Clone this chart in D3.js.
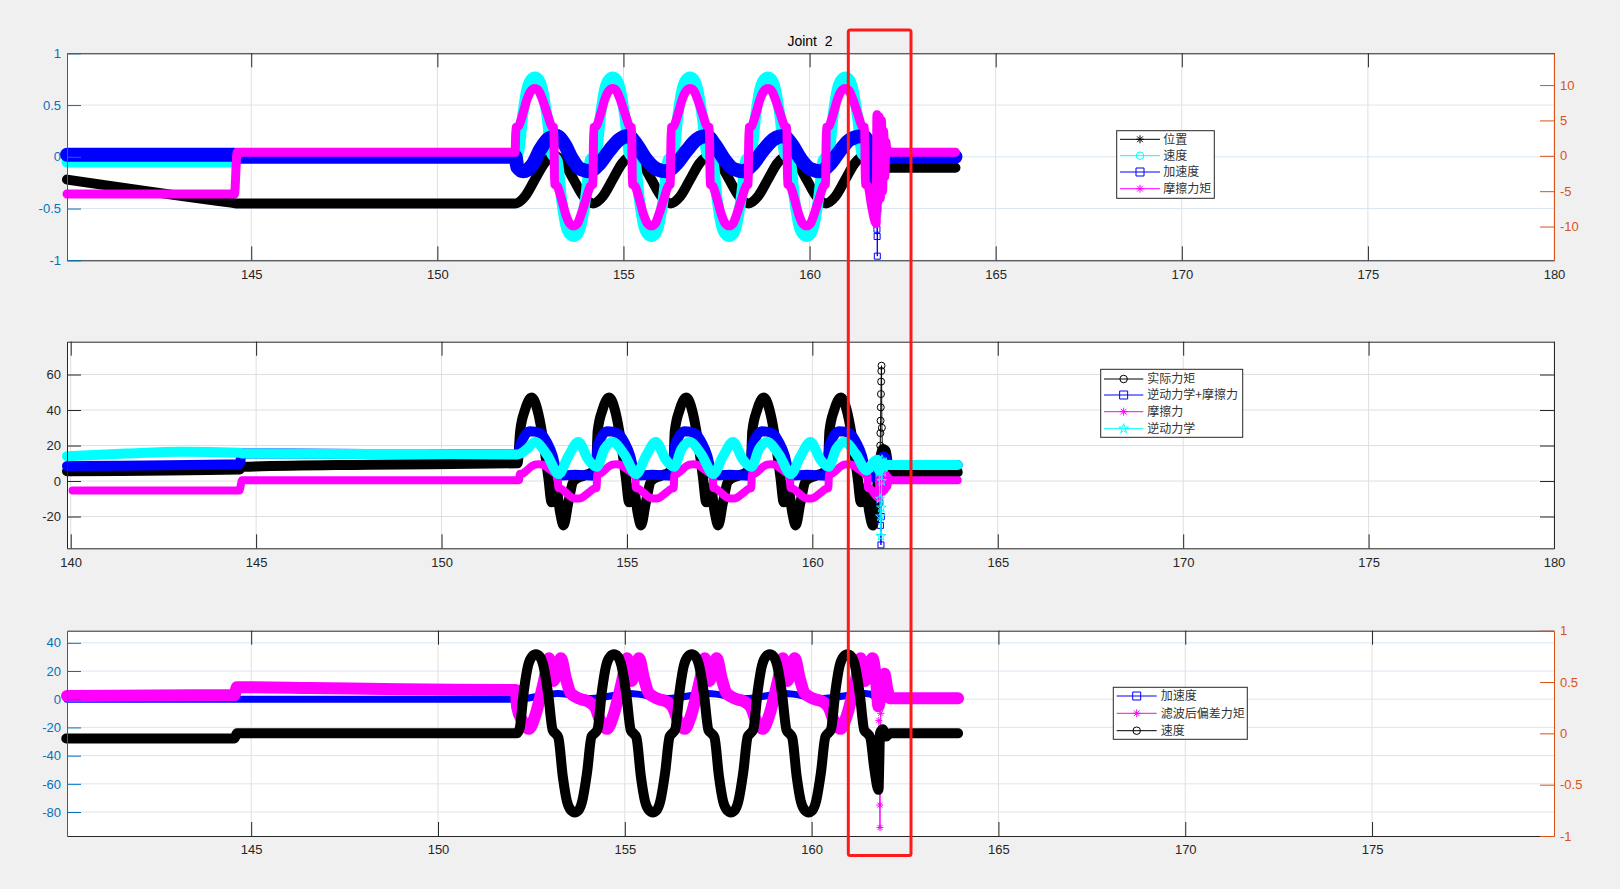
<!DOCTYPE html>
<html><head><meta charset="utf-8">
<script src="https://cdn.jsdelivr.net/npm/d3@7"></script>
<style>body{margin:0;background:#f0f0f0;} svg{display:block;}</style>
</head><body>
<script>
// ===================== DATA =====================
const titleText = "Joint  2";

// ---- panel 1 ticks ----
const p1XTicks = [145,150,155,160,165,170,175,180];
const p1YLTicks = [-1,-0.5,0,0.5,1];
const p1YRTicks = [-10,-5,0,5,10];
// ---- panel 2 ticks ----
const p2XTicks = [140,145,150,155,160,165,170,175,180];
const p2YTicks = [-20,0,20,40,60];
// ---- panel 3 ticks ----
const p3XTicks = [145,150,155,160,165,170,175];
const p3YLTicks = [-80,-60,-40,-20,0,20,40];
const p3YRTicks = [-1,-0.5,0,0.5,1];

// legends
const legend1Labels = ["位置","速度","加速度","摩擦力矩"];
const legend2Labels = ["实际力矩","逆动力学+摩擦力","摩擦力","逆动力学"];
const legend3Labels = ["加速度","滤波后偏差力矩","速度"];

// 位置 (panel 1, left axis)
const position = [[140.05,-0.22],[144.45,-0.443],[144.6,-0.45],[152.10,-0.45],
[152.36,-0.38],[152.62,-0.22],[152.88,-0.06],[153.14,0.01],[153.40,-0.06],[153.66,-0.22],[153.92,-0.38],[154.19,-0.45],
[154.45,-0.38],[154.71,-0.22],[154.97,-0.06],[155.23,0.01],[155.49,-0.06],[155.75,-0.22],[156.01,-0.38],[156.27,-0.45],
[156.53,-0.38],[156.79,-0.22],[157.05,-0.06],[157.32,0.01],[157.58,-0.06],[157.84,-0.22],[158.10,-0.38],[158.36,-0.45],
[158.62,-0.38],[158.88,-0.22],[159.14,-0.06],[159.40,0.01],[159.66,-0.06],[159.92,-0.22],[160.18,-0.38],[160.44,-0.45],
[160.70,-0.38],[160.96,-0.22],[161.22,-0.06],[161.49,0.01],[161.65,-0.03],[161.80,-0.09],[161.95,-0.106],[163.92,-0.106]];

// 速度 (panel 1 cyan, left axis; panel 3 black, right axis)
const velocity = [[140.05,-0.05],[144.55,-0.05],[144.62,0],[152.10,0],
[152.18,0.04],[152.30,0.42],[152.41,0.66],[152.52,0.75],[152.62,0.77],[152.72,0.75],[152.82,0.66],[152.95,0.38],[153.07,0.03],
[153.14,0],[153.22,-0.04],[153.34,-0.42],[153.45,-0.66],[153.56,-0.75],[153.66,-0.77],[153.76,-0.75],[153.86,-0.66],[153.99,-0.38],[154.11,-0.03],
[154.19,0],[154.27,0.04],[154.39,0.42],[154.50,0.66],[154.61,0.75],[154.71,0.77],[154.81,0.75],[154.91,0.66],[155.04,0.38],[155.16,0.03],
[155.23,0],[155.31,-0.04],[155.43,-0.42],[155.54,-0.66],[155.65,-0.75],[155.75,-0.77],[155.85,-0.75],[155.95,-0.66],[156.08,-0.38],[156.20,-0.03],
[156.27,0],[156.35,0.04],[156.47,0.42],[156.58,0.66],[156.69,0.75],[156.79,0.77],[156.89,0.75],[156.99,0.66],[157.12,0.38],[157.24,0.03],
[157.32,0],[157.40,-0.04],[157.52,-0.42],[157.63,-0.66],[157.74,-0.75],[157.84,-0.77],[157.94,-0.75],[158.04,-0.66],[158.17,-0.38],[158.29,-0.03],
[158.36,0],[158.44,0.04],[158.56,0.42],[158.67,0.66],[158.78,0.75],[158.88,0.77],[158.98,0.75],[159.08,0.66],[159.21,0.38],[159.33,0.03],
[159.40,0],[159.48,-0.04],[159.60,-0.42],[159.71,-0.66],[159.82,-0.75],[159.92,-0.77],[160.02,-0.75],[160.12,-0.66],[160.25,-0.38],[160.37,-0.03],
[160.44,0],[160.52,0.04],[160.64,0.42],[160.75,0.66],[160.86,0.75],[160.96,0.77],[161.06,0.75],[161.16,0.66],[161.29,0.38],[161.41,0.03],
[161.49,0],[161.57,-0.04],[161.68,-0.35],[161.79,-0.55],[161.81,-0.30],[161.83,0],[161.90,0.04],[162.00,-0.03],[162.10,0],[163.92,0]];

// 加速度 (panel 1 blue, left axis)
const accel1 = [[140.05,0.02],[144.55,0.02],[144.62,0],[152.10,0],
[152.15,-0.10],[152.31,-0.14],[152.55,-0.08],[152.78,0.08],[153.00,0.18],[153.21,0.20],[153.42,0.12],[153.62,-0.02],[153.85,-0.12],
[154.10,-0.14],[154.35,-0.07],[154.62,0.06],[154.90,0.17],[155.13,0.20],[155.35,0.12],[155.60,-0.02],[155.90,-0.12],
[156.16,-0.14],[156.42,-0.07],[156.70,0.06],[156.98,0.17],[157.24,0.20],[157.45,0.12],[157.70,-0.02],[157.97,-0.12],
[158.22,-0.14],[158.48,-0.07],[158.75,0.06],[159.04,0.17],[159.30,0.20],[159.52,0.12],[159.76,-0.02],[160.03,-0.12],
[160.28,-0.14],[160.55,-0.07],[160.82,0.06],[161.10,0.17],[161.44,0.20],[161.60,0.12],[161.72,-0.10],[161.78,-0.30],
[161.86,0.05],[161.95,-0.10],[162.05,0.05],[162.12,0],[163.92,0]];
const accel1Spike = [[161.79,-0.38],[161.80,-0.56],[161.81,-0.70],[161.815,-0.77],[161.82,-0.96],[161.83,-0.50],[161.845,-0.10]];

// 摩擦力矩 / 摩擦力 (panel 1 magenta right axis; panel 2 magenta)
const friction = [[140.05,-5.4],[144.55,-5.4],[144.62,0.5],[152.09,0.5],
[152.11,4.0],[152.18,4.2],[152.30,6.0],[152.41,8.0],[152.52,9.2],[152.62,9.5],[152.72,9.2],[152.82,8.0],[152.95,6.0],[153.07,4.2],[153.13,4.0],
[153.15,-4.0],[153.22,-4.3],[153.34,-6.2],[153.45,-8.3],[153.56,-9.6],[153.66,-9.9],[153.76,-9.6],[153.86,-8.3],[153.99,-6.2],[154.11,-4.3],[154.18,-4.0],
[154.20,4.0],[154.27,4.2],[154.39,6.0],[154.50,8.0],[154.61,9.2],[154.71,9.5],[154.81,9.2],[154.91,8.0],[155.04,6.0],[155.16,4.2],[155.22,4.0],
[155.24,-4.0],[155.31,-4.3],[155.43,-6.2],[155.54,-8.3],[155.65,-9.6],[155.75,-9.9],[155.85,-9.6],[155.95,-8.3],[156.08,-6.2],[156.20,-4.3],[156.26,-4.0],
[156.28,4.0],[156.35,4.2],[156.47,6.0],[156.58,8.0],[156.69,9.2],[156.79,9.5],[156.89,9.2],[156.99,8.0],[157.12,6.0],[157.24,4.2],[157.31,4.0],
[157.33,-4.0],[157.40,-4.3],[157.52,-6.2],[157.63,-8.3],[157.74,-9.6],[157.84,-9.9],[157.94,-9.6],[158.04,-8.3],[158.17,-6.2],[158.29,-4.3],[158.35,-4.0],
[158.37,4.0],[158.44,4.2],[158.56,6.0],[158.67,8.0],[158.78,9.2],[158.88,9.5],[158.98,9.2],[159.08,8.0],[159.21,6.0],[159.33,4.2],[159.39,4.0],
[159.41,-4.0],[159.48,-4.3],[159.60,-6.2],[159.71,-8.3],[159.82,-9.6],[159.92,-9.9],[160.02,-9.6],[160.12,-8.3],[160.25,-6.2],[160.37,-4.3],[160.43,-4.0],
[160.45,4.0],[160.52,4.2],[160.64,6.0],[160.75,8.0],[160.86,9.2],[160.96,9.5],[161.06,9.2],[161.16,8.0],[161.29,6.0],[161.41,4.2],[161.48,4.0],
[161.50,-4.0],[161.57,-4.3],[161.68,-7.5],[161.79,-9.6],[161.81,5.8],[161.84,-6.5],[161.87,5.5],[161.90,-6.0],[161.93,5.0],
[161.96,-5.0],[161.99,3.5],[162.02,-3.0],[162.05,2.0],[162.08,0.5],[163.92,0.5]];

// 实际力矩 (panel 2 black)
const actualTorque = [[139.9,5.5],[144.55,6.5],[144.62,8.0],[148.0,9.2],[152.05,10.0],
[152.12,28],[152.25,40],[152.43,47],[152.61,38],[152.75,22],[152.88,2],[152.97,-12],[153.09,-4],[153.20,-18],[153.29,-25],[153.42,-12],[153.56,0],[153.83,3],[154.05,5],[154.17,9],
[154.21,28],[154.34,40],[154.52,47],[154.70,38],[154.84,22],[154.97,2],[155.06,-12],[155.18,-4],[155.29,-18],[155.38,-25],[155.51,-12],[155.65,0],[155.92,3],[156.14,5],[156.25,9],
[156.29,28],[156.42,40],[156.60,47],[156.78,38],[156.92,22],[157.05,2],[157.14,-12],[157.26,-4],[157.37,-18],[157.46,-25],[157.59,-12],[157.73,0],[158.00,3],[158.22,5],[158.34,9],
[158.38,28],[158.51,40],[158.69,47],[158.87,38],[159.01,22],[159.14,2],[159.23,-12],[159.35,-4],[159.46,-18],[159.55,-25],[159.68,-12],[159.82,0],[160.09,3],[160.31,5],[160.42,9],
[160.46,28],[160.59,40],[160.77,47],[160.95,38],[161.09,22],[161.22,2],[161.31,-12],[161.43,-4],[161.54,-18],[161.63,-25],[161.72,-10],[161.80,8],
[161.90,18],[161.98,17],[162.05,8],[162.15,5],[163.92,5]];
const actualTorqueSpike = [[161.83,20],[161.835,27],[161.84,34],[161.845,41.5],[161.85,49],[161.855,56],[161.86,62],[161.865,65],[161.875,30],[161.89,17]];

// 逆动力学+摩擦力 (panel 2 blue)
const invDynFric = [[139.9,8.5],[144.55,9.5],[144.62,15.5],[148.0,15.3],[152.05,15.0],
[152.12,20],[152.39,28],[152.66,27],[152.84,22],[153.00,14],[153.07,8],[153.16,3],[153.60,3.5],[154.10,3],[154.17,8],
[154.21,20],[154.48,28],[154.75,27],[154.93,22],[155.09,14],[155.16,8],[155.25,3],[155.69,3.5],[156.19,3],[156.25,8],
[156.29,20],[156.56,28],[156.83,27],[157.01,22],[157.17,14],[157.24,8],[157.33,3],[157.77,3.5],[158.27,3],[158.34,8],
[158.38,20],[158.65,28],[158.92,27],[159.10,22],[159.26,14],[159.33,8],[159.42,3],[159.86,3.5],[160.36,3],[160.42,8],
[160.46,20],[160.73,28],[161.00,27],[161.18,22],[161.34,14],[161.41,8],[161.50,3],[161.70,2],[161.78,5],
[161.92,14],[162.00,12],[162.08,9],[163.92,9]];
const invDynFricSpike = [[161.80,5],[161.82,-12],[161.835,-25],[161.85,-36],[161.86,-20],[161.87,0],[161.90,12]];

// 逆动力学 (panel 2 cyan)
const invDyn = [[139.9,14],[141.5,15.5],[143.0,16.5],[144.55,16],[144.62,15.5],[148.0,15.3],[152.05,15.0],
[152.30,18],[152.52,22],[152.84,15],[153.16,4],[153.42,14],[153.69,22],[153.96,12],[154.19,8],
[154.39,18],[154.61,22],[154.93,15],[155.25,4],[155.51,14],[155.78,22],[156.05,12],[156.27,8],
[156.47,18],[156.69,22],[157.01,15],[157.33,4],[157.59,14],[157.86,22],[158.13,12],[158.36,8],
[158.56,18],[158.78,22],[159.10,15],[159.42,4],[159.68,14],[159.95,22],[160.22,12],[160.44,8],
[160.64,18],[160.86,22],[161.18,15],[161.46,6],[161.62,10],[161.75,12],[161.80,6],
[161.92,10],[162.00,9],[163.92,9]];
const invDynSpike = [[161.80,5],[161.82,-10],[161.835,-20],[161.85,-31],[161.86,-15],[161.87,0],[161.88,12],[161.90,5]];

// 加速度 (panel 3 blue, left axis)
const accel3 = [[140.07,0],[152.10,0],[152.31,0.5],[153.21,4],[154.10,0.5],[155.13,4],[156.16,0.5],[157.24,4],
[158.22,0.5],[159.30,4],[160.28,0.5],[161.44,4],[161.70,2],[161.85,-2],[161.95,3],[162.10,0],[163.92,0]];

// 滤波后偏差力矩 (panel 3 magenta, left axis)
const filtDevTorque = [[140.07,2.3],[144.55,3.0],[144.62,8.5],[146.5,8.0],[149.0,7.0],[152.08,6.5],
[152.12,-6],[152.25,-15],[152.43,-21],[152.61,-11],[152.75,3],[152.88,18],[152.97,29],[153.09,13],[153.20,22],[153.29,29],[153.42,15],[153.56,4],[153.83,0],[154.05,-2],
[154.21,-6],[154.34,-15],[154.52,-21],[154.70,-11],[154.84,3],[154.97,18],[155.06,29],[155.18,13],[155.29,22],[155.38,29],[155.51,15],[155.65,4],[155.92,0],[156.14,-2],
[156.29,-6],[156.42,-15],[156.60,-21],[156.78,-11],[156.92,3],[157.05,18],[157.14,29],[157.26,13],[157.37,22],[157.46,29],[157.59,15],[157.73,4],[158.00,0],[158.22,-2],
[158.38,-6],[158.51,-15],[158.69,-21],[158.87,-11],[159.01,3],[159.14,18],[159.23,29],[159.35,13],[159.46,22],[159.55,29],[159.68,15],[159.82,4],[160.09,0],[160.31,-2],
[160.46,-6],[160.59,-15],[160.77,-21],[160.95,-11],[161.09,3],[161.22,18],[161.31,29],[161.43,13],[161.54,22],[161.63,29],[161.72,15],[161.79,-5],
[161.88,12],[161.95,18],[162.02,8],[162.10,0.7],[163.92,0.7]];
const filtDevTorqueSpike = [[161.80,-15],[161.81,-30],[161.815,-45],[161.82,-60],[161.825,-75],[161.83,-91],[161.84,-50],[161.85,-10]];

// ===================== DRAWING =====================
const W = 1620, H = 889, PL = 67, PR = 1554;
const FONT = '"Liberation Sans", Arial, Helvetica, sans-serif';
const CJK = '"Noto Sans CJK SC", "Noto Sans CJK JP", sans-serif';
const C_LEFT = '#0072BD', C_RIGHT = '#D95319', C_AX = '#262626';

const svg = d3.select('body').append('svg').attr('width', W).attr('height', H);
svg.append('rect').attr('width', W).attr('height', H).attr('fill', '#f0f0f0');

function markerPath(type, s) {
  const r = s / 2;
  if (type === 'star') { const a = r * 0.72; return `M${-r},0L${r},0M0,${-r}L0,${r}M${-a},${-a}L${a},${a}M${-a},${a}L${a},${-a}`; }
  if (type === 'square') return `M${-r},${-r}H${r}V${r}H${-r}Z`;
  if (type === 'circle') return d3.symbol(d3.symbolCircle, Math.PI * r * r)();
  if (type === 'pentagram') return d3.symbol(d3.symbolStar, s * s * 0.45)();
}

function band(g, data, x, y, color, width) {
  g.append('path').datum(data)
    .attr('d', d3.line().x(d => x(d[0])).y(d => y(d[1])).curve(d3.curveMonotoneX))
    .attr('fill', 'none').attr('stroke', color).attr('stroke-width', width)
    .attr('stroke-linejoin', 'round').attr('stroke-linecap', 'round');
}
function spike(g, data, x, y, color, marker, size) {
  g.append('path').datum(data)
    .attr('d', d3.line().x(d => x(d[0])).y(d => y(d[1])))
    .attr('fill', 'none').attr('stroke', color).attr('stroke-width', 1);
  g.selectAll(null).data(data).join('path')
    .attr('transform', d => `translate(${x(d[0])},${y(d[1])})`)
    .attr('d', markerPath(marker, size)).attr('fill', 'none').attr('stroke', color).attr('stroke-width', 1);
}

function makePanel(p) {
  const g = svg.append('g');
  const x = d3.scaleLinear().domain(p.xDomain).range([PL, PR]);
  const yL = d3.scaleLinear().domain(p.yLDomain).range([p.bottom, p.top]);
  const yR = p.yRDomain ? d3.scaleLinear().domain(p.yRDomain).range([p.bottom, p.top]) : null;
  g.append('rect').attr('x', PL).attr('y', p.top).attr('width', PR - PL).attr('height', p.bottom - p.top).attr('fill', '#fff');
  g.selectAll('.vg').data(p.xTicks).join('line').attr('class', 'vg')
    .attr('x1', d => x(d)).attr('x2', d => x(d)).attr('y1', p.top).attr('y2', p.bottom)
    .attr('stroke', '#dfdfdf').attr('stroke-width', 1);
  g.selectAll('.hg').data(p.yLTicks).join('line').attr('class', 'hg')
    .attr('x1', PL).attr('x2', PR).attr('y1', d => yL(d)).attr('y2', d => yL(d))
    .attr('stroke', p.hGrid).attr('stroke-width', 1);
  const data = g.append('g');
  const axes = g.append('g');
  return { g, data, axes, x, yL, yR, p };
}

function styleAxis(sel, color, textColor) {
  sel.attr('font-family', FONT).attr('font-size', 13);
  sel.select('.domain').attr('stroke', color).attr('stroke-width', 1);
  sel.selectAll('.tick line').attr('stroke', color).attr('stroke-width', 1);
  sel.selectAll('.tick text').attr('fill', textColor);
}

function drawAxes(P, leftColor, rightColor) {
  const { axes, x, yL, yR, p } = P;
  const fmt = d => String(d);
  styleAxis(axes.append('g').attr('transform', `translate(0,${p.bottom})`)
    .call(d3.axisBottom(x).tickValues(p.xTicks).tickSize(-14).tickSizeOuter(0).tickPadding(9).tickFormat(fmt)), C_AX, C_AX);
  styleAxis(axes.append('g').attr('transform', `translate(0,${p.top})`)
    .call(d3.axisTop(x).tickValues(p.xTicks).tickSize(-14).tickSizeOuter(0).tickFormat('')), C_AX, C_AX);
  styleAxis(axes.append('g').attr('transform', `translate(${PL},0)`)
    .call(d3.axisLeft(yL).tickValues(p.yLTicks).tickSize(-14).tickSizeOuter(0).tickPadding(6).tickFormat(fmt)), leftColor, leftColor);
  if (yR) {
    styleAxis(axes.append('g').attr('transform', `translate(${PR},0)`)
      .call(d3.axisRight(yR).tickValues(p.yRTicks).tickSize(-14).tickSizeOuter(0).tickPadding(6).tickFormat(fmt)), rightColor, rightColor);
  } else {
    styleAxis(axes.append('g').attr('transform', `translate(${PR},0)`)
      .call(d3.axisRight(yL).tickValues(p.yLTicks).tickSize(-14).tickSizeOuter(0).tickFormat('')), rightColor, rightColor);
  }
}

function legend(box, rows, labels, colors, markers, lineX1, lineX2, textX) {
  const g = svg.append('g');
  g.append('rect').attr('x', box[0]).attr('y', box[1]).attr('width', box[2]).attr('height', box[3])
    .attr('fill', '#fff').attr('stroke', C_AX).attr('stroke-width', 1);
  labels.forEach((lab, i) => {
    const yy = rows[i];
    g.append('line').attr('x1', lineX1).attr('x2', lineX2).attr('y1', yy).attr('y2', yy).attr('stroke', colors[i]).attr('stroke-width', 1);
    g.append('path').attr('transform', `translate(${(lineX1 + lineX2) / 2},${yy})`)
      .attr('d', markerPath(markers[i], markers[i] === 'circle' ? 7.5 : 8)).attr('fill', 'none').attr('stroke', colors[i]).attr('stroke-width', 1);
    g.append('text').attr('x', textX).attr('y', yy).attr('dy', '0.36em')
      .attr('font-family', CJK).attr('font-size', 12).attr('fill', '#333').text(lab);
  });
}

// ---------- Panel 1 ----------
const P1 = makePanel({ top: 53.3, bottom: 260.3, xDomain: [140.05, 180], yLDomain: [-1, 1], yRDomain: [-14.77, 14.49],
  xTicks: p1XTicks, yLTicks: p1YLTicks, yRTicks: p1YRTicks, hGrid: '#d9e6f0' });
band(P1.data, position, P1.x, P1.yL, '#000000', 10);
band(P1.data, velocity, P1.x, P1.yL, '#00ffff', 11);
band(P1.data, accel1, P1.x, P1.yL, '#0000ff', 14);
spike(P1.data, accel1Spike, P1.x, P1.yL, '#0000ff', 'square', 6);
band(P1.data, friction, P1.x, P1.yR, '#ff00ff', 9);
drawAxes(P1, C_LEFT, C_RIGHT);

// ---------- Panel 2 ----------
const P2 = makePanel({ top: 341.7, bottom: 548.3, xDomain: [139.9, 180], yLDomain: [-37.9, 78.5],
  xTicks: p2XTicks, yLTicks: p2YTicks, hGrid: '#dfdfdf' });
band(P2.data, actualTorque, P2.x, P2.yL, '#000000', 10);
spike(P2.data, actualTorqueSpike, P2.x, P2.yL, '#000000', 'circle', 7);
band(P2.data, invDynFric, P2.x, P2.yL, '#0000ff', 10);
spike(P2.data, invDynFricSpike, P2.x, P2.yL, '#0000ff', 'square', 6);
band(P2.data, friction, P2.x, P2.yL, '#ff00ff', 8);
band(P2.data, invDyn, P2.x, P2.yL, '#00ffff', 10);
spike(P2.data, invDynSpike, P2.x, P2.yL, '#00ffff', 'pentagram', 8);
drawAxes(P2, C_AX, C_AX);

// ---------- Panel 3 ----------
const P3 = makePanel({ top: 630.7, bottom: 836, xDomain: [140.07, 179.87], yLDomain: [-97, 48.6], yRDomain: [-1, 1],
  xTicks: p3XTicks, yLTicks: p3YLTicks, yRTicks: p3YRTicks, hGrid: '#d9e6f0' });
band(P3.data, accel3, P3.x, P3.yL, '#0000ff', 7);
band(P3.data, filtDevTorque, P3.x, P3.yL, '#ff00ff', 12);
spike(P3.data, filtDevTorqueSpike, P3.x, P3.yL, '#ff00ff', 'star', 7);
band(P3.data, velocity, P3.x, P3.yR, '#000000', 10);
drawAxes(P3, C_LEFT, C_RIGHT);

// ---------- Legends ----------
legend([1116.7, 130.7, 97.6, 67.6], [139.3, 155.7, 172, 188.7], legend1Labels,
  ['#000000', '#00ffff', '#0000ff', '#ff00ff'], ['star', 'circle', 'square', 'star'], 1120, 1160, 1163.3);
legend([1100.7, 369.3, 142, 68], [379, 395, 411.7, 428.7], legend2Labels,
  ['#000000', '#0000ff', '#ff00ff', '#00ffff'], ['circle', 'square', 'star', 'pentagram'], 1104, 1143.3, 1147.3);
legend([1113.3, 687.3, 134, 52], [696, 713.3, 730.7], legend3Labels,
  ['#0000ff', '#ff00ff', '#000000'], ['square', 'star', 'circle'], 1116.7, 1156.7, 1160.7);

// ---------- Title ----------
svg.append('text').attr('x', 810).attr('y', 46).attr('text-anchor', 'middle')
  .attr('font-family', FONT).attr('font-size', 14).attr('fill', '#000').style('white-space', 'pre').text(titleText);

// ---------- Red annotation rectangle ----------
svg.append('rect').attr('x', 848.3).attr('y', 30).attr('width', 62.7).attr('height', 825.5).attr('rx', 2)
  .attr('fill', 'none').attr('stroke', '#ff1a1a').attr('stroke-width', 3);
</script>
</body></html>
